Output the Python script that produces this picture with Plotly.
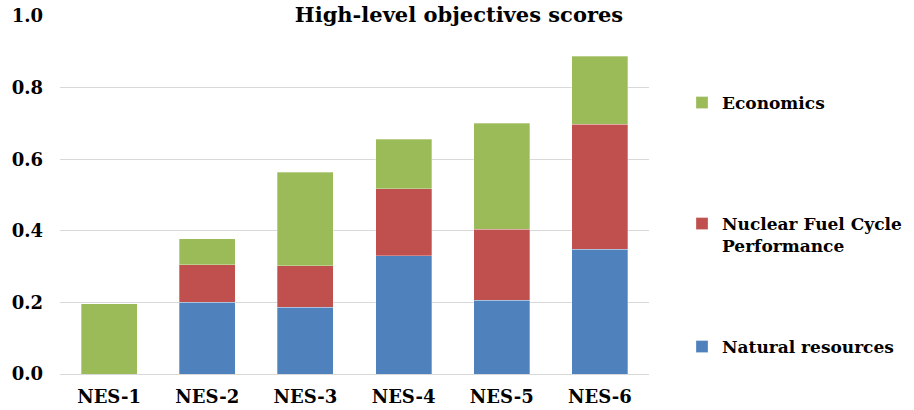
import plotly.graph_objects as go

# Scenario labels and stacked component scores
scenarios = ["NES-1", "NES-2", "NES-3", "NES-4", "NES-5", "NES-6"]
natural_resources = [0.0, 0.200, 0.187, 0.330, 0.206, 0.348]
fuel_cycle = [0.0, 0.105, 0.115, 0.188, 0.199, 0.350]
economics = [0.196, 0.073, 0.261, 0.138, 0.296, 0.190]
y_ticks = [0.0, 0.2, 0.4, 0.6, 0.8, 1.0]

FONT = "DejaVu Serif"
W, H = 914, 410
ML, MR, MT, MB = 60, 265, 16, 36
PW = W - ML - MR
PH = H - MT - MB


def px_to_paper_y(py):
    return (H - MB - py) / PH


def px_to_paper_x(px):
    return (px - ML) / PW


edge = dict(color="rgba(255,255,255,0.5)", width=0.6)

fig = go.Figure()
fig.add_trace(go.Bar(x=scenarios, y=natural_resources, name="Natural resources",
                     marker=dict(color="#4F81BD", line=edge), legend="legend3"))
fig.add_trace(go.Bar(x=scenarios, y=fuel_cycle, name="Nuclear Fuel Cycle<br>Performance",
                     marker=dict(color="#C0504D", line=edge), legend="legend2"))
fig.add_trace(go.Bar(x=scenarios, y=economics, name="Economics",
                     marker=dict(color="#9BBB59", line=edge), legend="legend"))

legend_font = dict(family=FONT, size=17, color="black", weight="bold")
lx = px_to_paper_x(682)


def legend_box(py):
    return dict(x=lx, xanchor="left", y=px_to_paper_y(py), yanchor="middle",
                font=legend_font, bgcolor="rgba(0,0,0,0)", valign="top",
                itemclick=False, itemdoubleclick=False)


fig.update_layout(
    width=W, height=H,
    margin=dict(l=ML, r=MR, t=MT, b=MB, autoexpand=False),
    paper_bgcolor="white", plot_bgcolor="white",
    barmode="stack", bargap=0.43,
    font=dict(family=FONT, color="black"),
    title=dict(text="<b>High-level objectives scores</b>",
               font=dict(family=FONT, size=21, color="black"),
               xref="container", x=459 / W, xanchor="center",
               yref="container", y=1 - 15 / H, yanchor="middle",
               automargin=False),
    showlegend=True,
    legend=legend_box(103),
    legend2=legend_box(235),
    legend3=legend_box(347),
    xaxis=dict(showgrid=False, showline=False, ticks="", automargin=False,
               tickfont=dict(family=FONT, size=18, color="black", weight="bold"),
               ticklabelstandoff=10),
    yaxis=dict(range=[0, 1], tickvals=y_ticks, automargin=False,
               ticktext=[f"{v:.1f}" for v in y_ticks],
               showgrid=True, gridcolor="#D9D9D9", gridwidth=1,
               zeroline=True, zerolinecolor="#D9D9D9", zerolinewidth=1,
               showline=False, ticks="",
               tickfont=dict(family=FONT, size=18, color="black", weight="bold"),
               ticklabelstandoff=16),
)

fig.write_html("out.html")
